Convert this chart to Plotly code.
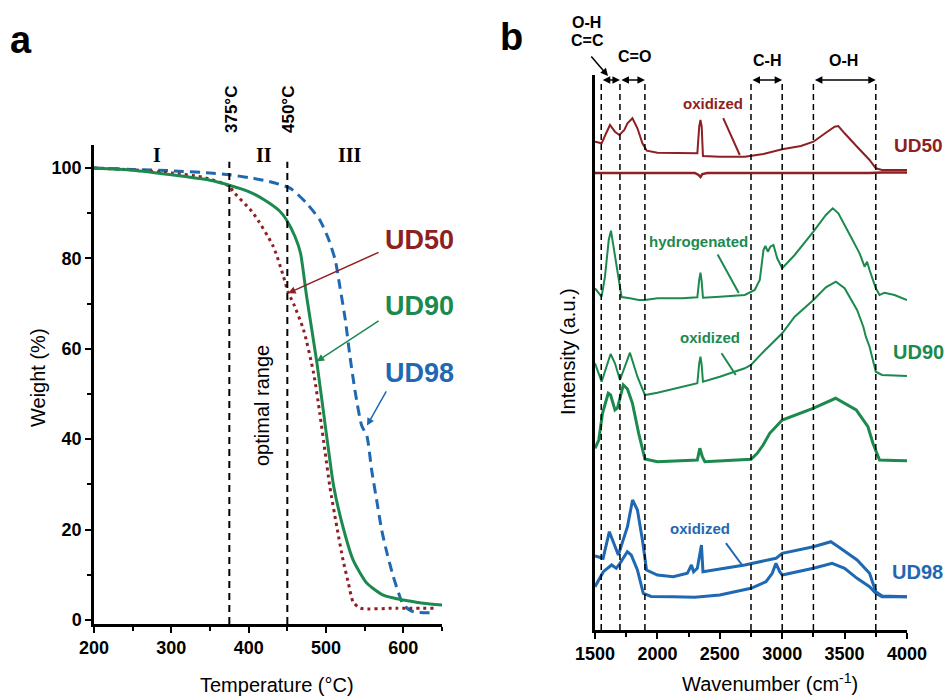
import plotly.graph_objects as go

W, H = 946, 698

# ---------------- Panel a: TGA curves ----------------
temp_ud50 = [200, 250, 300, 340, 375, 380, 406, 432, 445, 451, 458, 471, 484, 492,
             499, 505, 514, 522, 529, 535, 544, 590, 639]
weight_ud50 = [100, 99.6, 98.9, 98.0, 96.0, 94.8, 90.0, 82.6, 76.0, 72.5, 70.0, 64.2,
               54.6, 45.7, 36.9, 29.5, 20.6, 13.3, 8.1, 4.0, 2.6, 2.6, 2.6]

temp_ud90 = [200, 250, 300, 350, 375, 400, 420, 440, 449, 460, 467, 475, 488, 501,
             510, 523, 535, 553, 574, 600, 626, 650]
weight_ud90 = [100, 99.5, 98.5, 97.3, 96.2, 94.8, 93.0, 90.5, 88.5, 84.8, 81.2, 71.5,
               57.2, 40.5, 29.5, 19.9, 13.3, 8.1, 5.5, 4.4, 3.7, 3.3]

temp_ud98 = [200, 250, 300, 350, 375, 400, 425, 454, 475, 492, 503, 512, 518, 525,
             531, 538, 546, 553, 559, 566, 572, 579, 587, 594, 600, 613, 639]
weight_ud98 = [100, 99.7, 99.4, 98.9, 98.5, 97.9, 97.1, 95.5, 92.2, 88.5, 84.4, 79.6,
               73.7, 66.4, 58.3, 50.2, 43.1, 40.6, 33.2, 26.0, 19.9, 14.7, 9.6, 5.9,
               3.3, 1.8, 1.6]

region_bounds = [375, 450]
bound_labels = ["375°C", "450°C"]
region_labels = ["I", "II", "III"]

# ---------------- Panel b: FTIR spectra ----------------
wn_ud50_ox = [1500, 1553, 1590, 1620, 1660, 1695, 1735, 1760, 1800, 1840, 1880, 1915,
              2000, 2200, 2320, 2335, 2345, 2355, 2365, 2500, 2700, 2850, 3000, 3150,
              3250, 3350, 3420, 3450, 3500, 3600, 3700, 3750, 3800, 4000]
int_ud50_ox = [488.3, 486.7, 497, 505, 498.3, 495, 500, 506.7, 511.7, 501.7, 486.7, 479.3,
               477.3, 476.7, 476.7, 503.3, 510, 503.3, 474, 473.3, 473.3, 476, 480.7, 484,
               488.3, 497.3, 503.3, 504, 496.7, 483.3, 470, 461.7, 460, 460]

wn_ud50_base = [1500, 2300, 2330, 2345, 2360, 2400, 3700, 3800, 4000]
int_ud50_base = [457, 457, 455, 453, 456, 457, 457, 457.5, 457.5]

wn_ud90_hyd = [1500, 1553, 1580, 1610, 1628, 1645, 1680, 1713, 1780, 1850, 1900, 2000,
               2200, 2320, 2335, 2345, 2355, 2365, 2500, 2700, 2780, 2820, 2850, 2865,
               2885, 2905, 2930, 2960, 3000, 3100, 3250, 3350, 3405, 3450, 3550, 3620,
               3660, 3680, 3700, 3750, 3780, 3820, 3900, 4000]
int_ud90_hyd = [341.7, 333.3, 353.3, 390, 399.3, 386.7, 356.7, 333, 331.7, 330, 330, 331.7,
                331.7, 332.7, 350, 357.3, 348.3, 332.3, 333.3, 335, 340, 350, 380, 384,
                378.3, 383.3, 385, 371.7, 361.7, 375, 398.3, 415, 421.7, 416.7, 393.3, 376.7,
                363.3, 368.3, 360, 341.7, 335, 337.3, 335, 330]

wn_ud90_ox = [1500, 1553, 1625, 1660, 1700, 1780, 1840, 1900, 2000, 2200, 2320, 2335,
              2345, 2355, 2365, 2500, 2700, 2750, 2850, 3000, 3100, 3250, 3350, 3430,
              3500, 3600, 3650, 3670, 3685, 3700, 3750, 3800, 4000]
int_ud90_ox = [266.7, 248.3, 276, 266.7, 250, 277.3, 253.3, 235, 237.3, 243.3, 246.7, 266.7,
               273.3, 265, 248.3, 253.3, 261.7, 265, 278.3, 296.7, 313.3, 330, 342.7, 348.3,
               341.7, 320, 303.3, 293.3, 288.3, 283.3, 258.3, 255, 254]

wn_ud90_base = [1500, 1530, 1560, 1606, 1625, 1660, 1680, 1727, 1760, 1800, 1850, 1900,
                2000, 2200, 2320, 2340, 2360, 2380, 2500, 2750, 2800, 2847, 2900, 3000,
                3247, 3428, 3593, 3687, 3727, 3748, 3780, 3900, 4000]
int_ud90_base = [181.7, 190, 216.7, 236.7, 235, 220, 222, 245, 241, 226.7, 196.7, 171,
                 168.3, 169, 170, 181.7, 173.3, 168.3, 169.3, 170.7, 176.7, 185, 196.7, 210,
                 221.7, 231.7, 220, 203.3, 186.7, 180, 170, 169.5, 169.3]

wn_ud98_ox = [1500, 1565, 1615, 1660, 1687, 1760, 1801, 1840, 1880, 1913, 2000, 2127,
              2240, 2273, 2290, 2320, 2353, 2365, 2500, 2700, 2950, 3000, 3250, 3390,
              3450, 3600, 3700, 3750, 3800, 4000]
int_ud98_ox = [74, 71.7, 98.3, 83.3, 75, 103.3, 130, 120, 90, 60, 55, 53.3,
               56.7, 65, 58.3, 61.7, 85, 58.3, 60.7, 65, 71.7, 76.7, 83.3, 88.3,
               83.3, 70, 56.7, 38.3, 34, 33.3]

wn_ud98_base = [1500, 1567, 1633, 1670, 1700, 1759, 1790, 1840, 1887, 1950, 2127, 2300,
                2500, 2750, 2870, 2920, 2950, 2980, 3000, 3250, 3400, 3500, 3600, 3700,
                3750, 3800, 4000]
int_ud98_base = [43.3, 58.3, 65, 61.7, 66.7, 78.3, 75, 60, 36.7, 33.5, 33.3, 32.7,
                 35, 41.7, 48.3, 56.7, 66.7, 58.3, 55, 61.7, 66.7, 61.7, 51.7, 43.3,
                 36.7, 33.3, 33.3]

band_edges = [1550, 1700, 1900, 2750, 3000, 3250, 3750]
band_spans = [(1550, 1700), (1700, 1900), (2750, 3000), (3250, 3750)]

RED = "#8E1F22"
GREEN = "#1C8A4E"
BLUE = "#1F68B2"
FONT = "Liberation Sans"


def px(x):
    return x / W


def py(y):
    return 1 - y / H


fig = go.Figure()

# TGA traces
fig.add_trace(go.Scatter(x=temp_ud98, y=weight_ud98, mode="lines", xaxis="x", yaxis="y",
                         line=dict(color=BLUE, width=3, dash="10px,6px", shape="spline",
                                   smoothing=0.6)))
fig.add_trace(go.Scatter(x=temp_ud50, y=weight_ud50, mode="lines", xaxis="x", yaxis="y",
                         line=dict(color=RED, width=3, dash="3px,4px", shape="spline",
                                   smoothing=0.6)))
fig.add_trace(go.Scatter(x=temp_ud90, y=weight_ud90, mode="lines", xaxis="x", yaxis="y",
                         line=dict(color=GREEN, width=3, shape="spline", smoothing=0.6)))

# FTIR traces
spectra = [
    (wn_ud50_ox, int_ud50_ox, RED, 2),
    (wn_ud50_base, int_ud50_base, RED, 2.5),
    (wn_ud90_hyd, int_ud90_hyd, GREEN, 2),
    (wn_ud90_ox, int_ud90_ox, GREEN, 2),
    (wn_ud90_base, int_ud90_base, GREEN, 3),
    (wn_ud98_ox, int_ud98_ox, BLUE, 3),
    (wn_ud98_base, int_ud98_base, BLUE, 3),
]
for wn, inten, col, lw in spectra:
    fig.add_trace(go.Scatter(x=wn, y=inten, mode="lines", xaxis="x2", yaxis="y2",
                             line=dict(color=col, width=lw)))

shapes = []
for b in region_bounds:
    shapes.append(dict(type="line", xref="x", yref="y domain", x0=b, x1=b, y0=0, y1=0.965,
                       line=dict(color="black", width=2, dash="7px,5px")))
for e in band_edges:
    shapes.append(dict(type="line", xref="x2", yref="y2 domain", x0=e, x1=e, y0=0, y1=0.99,
                       line=dict(color="black", width=1.5, dash="6px,4px")))

ann = []


def text(x, y, s, size, color="black", bold=True, angle=0, family=FONT, anchor="center"):
    ann.append(dict(x=px(x), y=py(y), xref="paper", yref="paper", text=s, showarrow=False,
                    xanchor=anchor, yanchor="middle", textangle=angle,
                    font=dict(family=family, size=size, color=color,
                              weight="bold" if bold else "normal")))


# panel letters
text(21, 40, "a", 38)
text(511, 37, "b", 38)

# panel a texts
text(231, 110, bound_labels[0], 17, angle=-90)
text(288, 110, bound_labels[1], 17, angle=-90)
for xx, lab in zip([157, 264, 350], region_labels):
    text(xx, 155, lab, 20, family="Liberation Serif")
text(262, 406, "optimal range", 20, bold=False, angle=-90)
text(419, 240, "UD50", 27, color=RED)
text(419, 306, "UD90", 27, color=GREEN)
text(419, 373, "UD98", 27, color=BLUE)
text(277, 685, "Temperature (°C)", 20, bold=False)
text(38, 378, "Weight (%)", 20, bold=False, angle=-90)

# panel a pointer arrows (head on curve, tail at label)
for (hx, hy, tx, ty, col) in [(451, 72.3, 570, 81.5, RED),
                              (488, 57.2, 570, 66.4, GREEN),
                              (553, 43.0, 579, 50.9, BLUE)]:
    ann.append(dict(x=hx, y=hy, ax=tx, ay=ty, xref="x", yref="y", axref="x", ayref="y",
                    text="", showarrow=True, arrowhead=2, arrowsize=1, arrowwidth=1.5,
                    arrowcolor=col))

# panel b texts
text(586, 22, "O-H", 16)
text(587, 40, "C=C", 16)
text(634, 56, "C=O", 16)
text(767, 60, "C-H", 16)
text(843, 60, "O-H", 16)
text(713, 103, "oxidized", 15, color=RED)
text(698, 242, "hydrogenated", 15, color=GREEN)
text(710, 338, "oxidized", 15, color=GREEN)
text(700, 528, "oxidized", 15, color=BLUE)
text(892, 145, "UD50", 19, color=RED, anchor="left")
text(918, 352, "UD90", 20, color=GREEN)
text(917, 572, "UD98", 20, color=BLUE)
text(770, 682, "Wavenumber (cm<sup>-1</sup>)", 20, bold=False)
text(568, 352, "Intensity (a.u.)", 20, bold=False, angle=-90)

# band range double arrows
for a0, a1 in band_spans:
    ann.append(dict(x=a1, y=550, ax=a0, ay=550, xref="x2", yref="y2", axref="x2",
                    ayref="y2", text="", showarrow=True, arrowhead=2, startarrowhead=2,
                    arrowside="end+start", arrowsize=1, startarrowsize=1, arrowwidth=1.5,
                    arrowcolor="black"))
# slanted arrow from the O-H / C=C label
ann.append(dict(x=px(608), y=py(76), ax=-18, ay=-21, xref="paper", yref="paper",
                axref="pixel", ayref="pixel", text="", showarrow=True, arrowhead=2,
                arrowsize=1, arrowwidth=1.5, arrowcolor="black"))

# spectrum label pointer lines
for (hx, hy, tx, ty, col) in [(2660, 475, 2522, 513.3, RED),
                              (2652, 337, 2476, 377, GREEN),
                              (2628, 255, 2506, 278.3, GREEN),
                              (2684, 64, 2540, 88.3, BLUE)]:
    ann.append(dict(x=hx, y=hy, ax=tx, ay=ty, xref="x2", yref="y2", axref="x2",
                    ayref="y2", text="", showarrow=True, arrowhead=0, arrowwidth=2,
                    arrowcolor=col))

tickfont = dict(family=FONT, size=18, color="black", weight="bold")
axis_common = dict(showline=True, linecolor="black", ticks="outside", tickcolor="black",
                   showgrid=False, zeroline=False, tickfont=tickfont, automargin=False)

fig.update_layout(
    width=W, height=H, margin=dict(l=0, r=0, t=0, b=0, autoexpand=False),
    paper_bgcolor="white", plot_bgcolor="white", showlegend=False,
    xaxis=dict(domain=[px(94), px(442)], range=[200, 650], anchor="y", linewidth=2.5,
               ticklen=6, tickwidth=2, tick0=200, dtick=100,
               minor=dict(ticks="outside", ticklen=4, tickwidth=2, dtick=50, tickcolor="black"),
               **axis_common),
    yaxis=dict(domain=[py(624), py(145)], range=[-0.9, 105.1], anchor="x", linewidth=2.5,
               ticklen=6, tickwidth=2, tick0=0, dtick=20,
               minor=dict(ticks="outside", ticklen=4, tickwidth=2, dtick=10, tickcolor="black"),
               **axis_common),
    xaxis2=dict(domain=[px(595), px(907)], range=[1500, 4000], anchor="y2", linewidth=2.5,
                ticklen=6, tickwidth=2, tick0=1500, dtick=500,
                minor=dict(ticks="outside", ticklen=4, tickwidth=2, dtick=250,
                           tickcolor="black"),
                **axis_common),
    yaxis2=dict(domain=[py(630), py(75)], range=[0, 555], anchor="x2", showline=True,
                linecolor="black", linewidth=2.5, ticks="", showticklabels=False,
                showgrid=False, zeroline=False, automargin=False),
    shapes=shapes,
    annotations=ann,
)

fig.write_html("out.html")
